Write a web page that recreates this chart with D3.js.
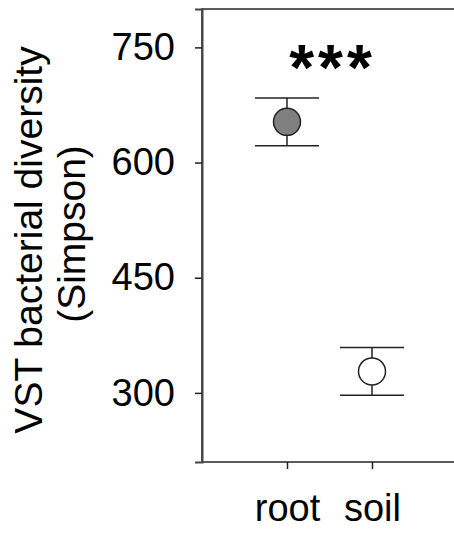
<!DOCTYPE html>
<html>
<head>
<meta charset="utf-8">
<script src="https://cdn.jsdelivr.net/npm/d3@7/dist/d3.min.js"></script>
<style>
  html, body { margin: 0; padding: 0; background: #fff; }
  svg { display: block; }
  text { font-family: "Liberation Sans", Arial, sans-serif; fill: #000; }
</style>
</head>
<body>
<svg id="chart" width="454" height="534"></svg>
<script>
// Group means and standard errors
const groups = ["root", "soil"];
const means = [653, 328];
const errors = [31, 31];
const fills = ["#808080", "#ffffff"];
const yTicks = [300, 450, 600, 750];
const significance = "***";

const svg = d3.select("#chart");
const plotLeft = 202, plotRight = 480, plotTop = 9, plotBottom = 462;

const x = d3.scalePoint().domain(["", ...groups, " "]).range([plotLeft, 457]);
const y = d3.scaleLinear().domain([210, 800]).range([plotBottom, plotTop]);

// Panel frame (right edge extends past the view)
svg.append("rect")
  .attr("x", plotLeft).attr("y", plotTop)
  .attr("width", plotRight - plotLeft).attr("height", plotBottom - plotTop)
  .attr("fill", "none").attr("stroke", "#333").attr("stroke-width", 1.6);

// Y axis
const yAxis = svg.append("g")
  .attr("transform", `translate(${plotLeft},0)`)
  .call(d3.axisLeft(y).tickValues(yTicks).tickSize(7).tickPadding(20).tickFormat(d3.format("d")));
yAxis.select(".domain").attr("stroke", "#444").attr("stroke-width", 2);
yAxis.selectAll(".tick line").attr("stroke", "#222").attr("stroke-width", 1.5);
yAxis.selectAll(".tick text")
  .attr("font-size", 38).attr("fill", "#000")
  .style("font-family", "'Liberation Sans', Arial, sans-serif");

// X axis
const xAxis = svg.append("g")
  .attr("transform", `translate(0,${plotBottom})`)
  .call(d3.axisBottom(x).tickValues(groups).tickSize(7).tickPadding(25));
xAxis.select(".domain").remove();
xAxis.selectAll(".tick line").attr("stroke", "#222").attr("stroke-width", 1.5);
xAxis.selectAll(".tick text")
  .attr("font-size", 38).attr("fill", "#000")
  .style("font-family", "'Liberation Sans', Arial, sans-serif");

// Y axis title (two lines)
const titleCenter = 240;
svg.append("text")
  .attr("transform", `translate(42,${titleCenter}) rotate(-90)`)
  .attr("text-anchor", "middle").attr("font-size", 39)
  .text("VST bacterial diversity");
svg.append("text")
  .attr("transform", `translate(85,${titleCenter - 6}) rotate(-90)`)
  .attr("text-anchor", "middle").attr("font-size", 39)
  .text("(Simpson)");

// Error bars
const capHalf = 32;
const data = groups.map((g, i) => ({ g, m: means[i], e: errors[i], fill: fills[i] }));
const eb = svg.append("g").attr("stroke", "#222").attr("stroke-width", 1.5);
data.forEach(d => {
  const cx = x(d.g);
  eb.append("line").attr("x1", cx).attr("x2", cx).attr("y1", y(d.m + d.e)).attr("y2", y(d.m - d.e));
  eb.append("line").attr("x1", cx - capHalf).attr("x2", cx + capHalf).attr("y1", y(d.m + d.e)).attr("y2", y(d.m + d.e));
  eb.append("line").attr("x1", cx - capHalf).attr("x2", cx + capHalf).attr("y1", y(d.m - d.e)).attr("y2", y(d.m - d.e));
});

// Mean points
svg.append("g").selectAll("circle").data(data).join("circle")
  .attr("cx", d => x(d.g)).attr("cy", d => y(d.m)).attr("r", 13.5)
  .attr("fill", d => d.fill).attr("stroke", "#222").attr("stroke-width", 1.5);

// Significance marker
const starSpacing = 4;
svg.append("text")
  .attr("x", (x(groups[0]) + x(groups[1])) / 2 + 1 + starSpacing / 2).attr("y", 90)
  .attr("text-anchor", "middle").attr("font-size", 64).attr("font-weight", "bold")
  .attr("letter-spacing", starSpacing)
  .text(significance);
</script>
</body>
</html>
